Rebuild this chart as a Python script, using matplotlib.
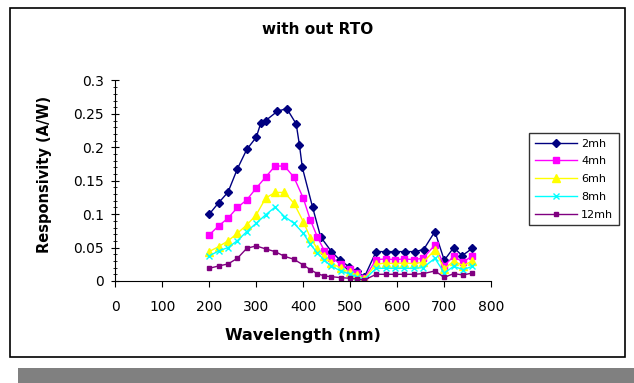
import matplotlib
matplotlib.use("Agg")
import matplotlib.pyplot as plt
import matplotlib.ticker as ticker
from matplotlib.patches import Rectangle

plt.rcParams["font.family"] = ["DejaVu Sans"]

# 2mh was sampled a bit more densely around the peak
wl_2mh = [200, 220, 240, 260, 280, 300, 310, 320, 345, 365, 385, 392, 398,
          420, 437, 460, 478, 497, 514, 530, 555, 575, 596, 616, 637, 656,
          680, 700, 720, 738, 760]
resp_2mh = [0.100, 0.117, 0.133, 0.168, 0.197, 0.215, 0.237, 0.240, 0.254,
            0.258, 0.235, 0.203, 0.170, 0.110, 0.066, 0.044, 0.0315, 0.0215,
            0.015, 0.006, 0.044, 0.044, 0.044, 0.044, 0.044, 0.047, 0.074,
            0.031, 0.050, 0.038, 0.049]

wl = [200, 220, 240, 260, 280, 300, 320, 340, 360, 380, 400, 415, 430, 445,
      460, 480, 500, 515, 530, 555, 575, 595, 615, 635, 655, 680, 700, 720,
      740, 760]
resp_4mh = [0.069, 0.0825, 0.094, 0.110, 0.1215, 0.139, 0.1555, 0.172, 0.172,
            0.1555, 0.124, 0.0915, 0.066, 0.045, 0.035, 0.025, 0.018, 0.012,
            0.004, 0.032, 0.033, 0.032, 0.033, 0.032, 0.034, 0.054, 0.023,
            0.037, 0.028, 0.038]
resp_6mh = [0.044, 0.0515, 0.060, 0.0715, 0.084, 0.099, 0.124, 0.1325, 0.1325,
            0.1165, 0.089, 0.065, 0.048, 0.037, 0.027, 0.019, 0.013, 0.009,
            0.003, 0.025, 0.027, 0.026, 0.027, 0.026, 0.028, 0.0465, 0.018,
            0.030, 0.023, 0.030]
resp_8mh = [0.0375, 0.045, 0.050, 0.0605, 0.074, 0.0865, 0.099, 0.1105, 0.0965,
            0.0865, 0.0715, 0.055, 0.042, 0.031, 0.022, 0.015, 0.010, 0.006,
            0.002, 0.019, 0.019, 0.019, 0.019, 0.019, 0.020, 0.034, 0.012,
            0.022, 0.017, 0.022]
resp_12mh = [0.019, 0.0225, 0.0255, 0.034, 0.049, 0.0525, 0.048, 0.044, 0.037,
             0.0325, 0.024, 0.017, 0.011, 0.0075, 0.0065, 0.005, 0.004, 0.003,
             0.0015, 0.010, 0.010, 0.010, 0.010, 0.010, 0.011, 0.015, 0.0055,
             0.011, 0.009, 0.012]

labels = ["2mh", "4mh", "6mh", "8mh", "12mh"]
colors = ["#000080", "#FF00FF", "#FFFF00", "#00FFFF", "#800080"]
markers = ["D", "s", "^", "x", "s"]
msizes = [4.5, 5, 5.5, 4.5, 3.5]

fig = plt.figure(figsize=(6.34, 3.83), dpi=100)

# outer chart frame and grey shadow bar
shadow = Rectangle((18 / 634, 0), 1, 15 / 383, transform=fig.transFigure,
                   facecolor="#808080", edgecolor="none", zorder=-10)
frame = Rectangle((10 / 634, 1 - 357 / 383), 615 / 634, 349 / 383,
                  transform=fig.transFigure, facecolor="white",
                  edgecolor="black", linewidth=1.2, zorder=-9)
fig.patches.extend([shadow, frame])

ax = fig.add_axes([115.2 / 634, 1 - 281 / 383, 376.1 / 634, 200.5 / 383])
ax.patch.set_alpha(0)

series = [(wl_2mh, resp_2mh), (wl, resp_4mh), (wl, resp_6mh),
          (wl, resp_8mh), (wl, resp_12mh)]
for (x, y), lab, c, m, ms in zip(series, labels, colors, markers, msizes):
    ax.plot(x, y, color=c, marker=m, markersize=ms, linewidth=1.0,
            markeredgewidth=1.0, label=lab)

ax.set_xlim(0, 800)
ax.set_ylim(0, 0.3)
ax.xaxis.set_major_locator(ticker.MultipleLocator(100))
ax.yaxis.set_major_locator(ticker.MultipleLocator(0.05))
ax.yaxis.set_minor_locator(ticker.MultipleLocator(0.01))
ax.yaxis.set_major_formatter(ticker.FuncFormatter(lambda v, p: f"{v:g}"))
ax.spines["top"].set_visible(False)
ax.spines["right"].set_visible(False)
ax.tick_params(axis="x", direction="out", length=4, labelsize=10, pad=10)
ax.tick_params(axis="y", which="major", direction="inout", length=6,
               labelsize=10, pad=5)
ax.tick_params(axis="y", which="minor", direction="inout", length=3)

ax.set_xlabel("Wavelength (nm)", fontsize=11.5, fontweight="bold")
ax.set_ylabel("Responsivity (A/W)", fontsize=10.5, fontweight="bold")
ax.xaxis.set_label_coords(0.5, -0.234)
ax.yaxis.set_label_coords(-0.168, 0.53)

fig.text(318 / 634, 1 - 30 / 383, "with out RTO", ha="center", va="center",
         fontsize=11, fontweight="bold")

leg = ax.legend(loc="upper left", bbox_to_anchor=(529 / 634, 1 - 133 / 383),
                bbox_transform=fig.transFigure, fontsize=8, numpoints=1,
                frameon=True, fancybox=False, edgecolor="black",
                handlelength=3.8, handletextpad=0.4, borderpad=0.5,
                labelspacing=0.7, borderaxespad=0)
leg.get_frame().set_linewidth(1.0)

fig.savefig("out.png", dpi=100)
